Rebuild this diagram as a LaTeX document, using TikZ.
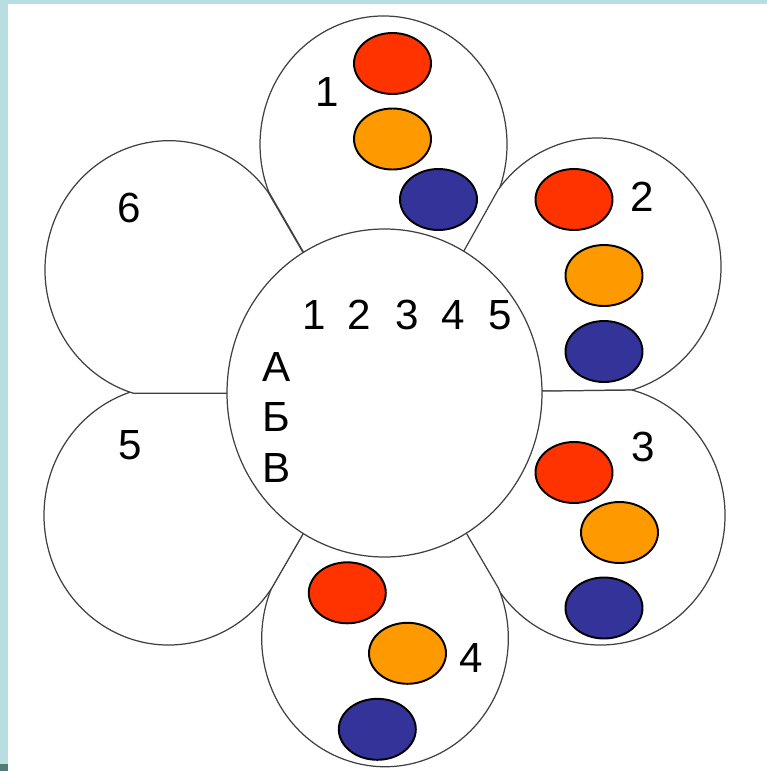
\documentclass[tikz,border=0pt]{standalone}
\usepackage{fontspec}
\setmainfont{Liberation Sans}
\usetikzlibrary{calc}
\definecolor{dotred}{HTML}{FF3300}
\definecolor{dotorange}{HTML}{FF9900}
\definecolor{dotblue}{HTML}{333399}
\definecolor{framelight}{HTML}{B9DEE2}
\definecolor{framedark}{HTML}{4E7D78}
\begin{document}
\begin{tikzpicture}[x=0.02cm,y=-0.02cm,
	petal/.style={draw=black!75,line width=0.7pt,fill=white},
	dot/.style={draw=black,line width=1.1pt},
	num/.style={inner sep=0pt,font=\fontsize{24}{28}\selectfont}]
		\useasboundingbox (0,0) rectangle (767,771);
		%frame
		\fill[framelight] (0,0) rectangle (767,4);
		\fill[framelight] (0,0) rectangle (8,771);
		\fill[framedark] (0,764) rectangle (8,771);
		%petals
		\coordinate (mid) at (384.5,393);
		\coordinate (c1) at (383.5,144.5);
		\coordinate (c2) at (597.3,266.6);
		\coordinate (c3) at (600.4,515.4);
		\coordinate (c4) at (385,638.4);
		\coordinate (c5) at (168.6,515.4);
		\coordinate (c6) at (169,269.7);
		\draw[petal] (mid) -- ($(c1)+(20.9:123.5 and 128.5)$) arc[start angle=20.9,end angle=-201.5,x radius=123.5,y radius=128.5] -- cycle;
		\draw[petal] (mid) -- ($(c2)+(73.7:123.7 and 128.6)$) arc[start angle=73.7,end angle=-143.4,x radius=123.7,y radius=128.6] -- cycle;
		\draw[petal] (mid) -- ($(c3)+(-75.3:124.6 and 129.6)$) arc[start angle=-75.3,end angle=145.5,x radius=124.6,y radius=129.6] -- cycle;
		\draw[petal] (mid) -- ($(c4)+(-23:123.3 and 128.3)$) arc[start angle=-23,end angle=203,x radius=123.3,y radius=128.3] -- cycle;
		\draw[petal] (mid) -- ($(c5)+(34.3:124.6 and 129.6)$) arc[start angle=34.3,end angle=253.3,x radius=124.6,y radius=129.6] -- cycle;
		\draw[petal] (mid) -- ($(c6)+(106.7:124 and 129)$) arc[start angle=106.7,end angle=322.9,x radius=124,y radius=129] -- cycle;
		%centre
		\draw[petal] (mid) ellipse[x radius=157.5,y radius=164];
		%dots
		\draw[dot,fill=dotred] (392.5,63.5) ellipse[x radius=38.5,y radius=30.5];
		\draw[dot,fill=dotorange] (392.5,139) ellipse[x radius=38.5,y radius=30.5];
		\draw[dot,fill=dotblue] (438.5,199.5) ellipse[x radius=38.5,y radius=30.5];
		\draw[dot,fill=dotred] (574,199.5) ellipse[x radius=38.5,y radius=30.5];
		\draw[dot,fill=dotorange] (604,275.5) ellipse[x radius=38.5,y radius=30.5];
		\draw[dot,fill=dotblue] (604,351.5) ellipse[x radius=38.5,y radius=30.5];
		\draw[dot,fill=dotred] (574,472.5) ellipse[x radius=38.5,y radius=30.5];
		\draw[dot,fill=dotorange] (619.5,532.5) ellipse[x radius=38.5,y radius=30.5];
		\draw[dot,fill=dotblue] (604,608) ellipse[x radius=38.5,y radius=30.5];
		\draw[dot,fill=dotred] (347.3,592.8) ellipse[x radius=38.5,y radius=30.5];
		\draw[dot,fill=dotorange] (407.5,653.3) ellipse[x radius=38.5,y radius=30.5];
		\draw[dot,fill=dotblue] (377.3,729.3) ellipse[x radius=38.5,y radius=30.5];
		%labels
		\node[num](p1) at (327.5,92) {1};
		\node[num](p2) at (642,197) {2};
		\node[num](p3) at (643,447) {3};
		\node[num](p4) at (471.7,657.5) {4};
		\node[num](p5) at (130,445) {5};
		\node[num](p6) at (129,208) {6};
		%table
		\node[num](col1) at (314,315) {1};
		\node[num](col2) at (359,315) {2};
		\node[num](col3) at (407,315) {3};
		\node[num](col4) at (453,315) {4};
		\node[num](col5) at (500,315) {5};
		\node[num,anchor=west](rowA) at (262,367) {А};
		\node[num,anchor=west](rowB) at (262,417) {Б};
		\node[num,anchor=west](rowV) at (262,467.5) {В};
		\end{tikzpicture}
\end{document}
